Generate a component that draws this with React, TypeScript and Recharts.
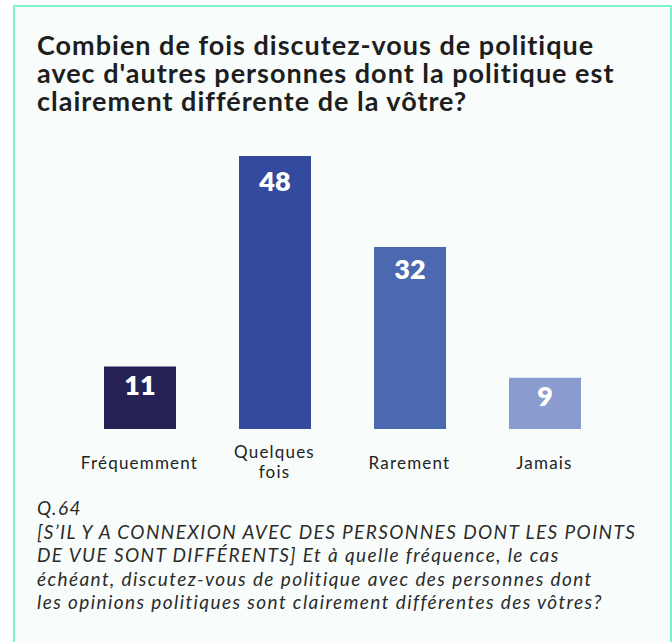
import React from 'react';
import { BarChart, Bar, XAxis, YAxis, Cell, LabelList } from 'recharts';

const categories = ['Fréquemment', 'Quelques fois', 'Rarement', 'Jamais'];
const values = [11, 48, 32, 9];
const barColors = ['#252154', '#334a9e', '#4a69b0', '#8a9bcf'];

const titleLines = [
  'Combien de fois discutez-vous de politique',
  "avec d'autres personnes dont la politique est",
  'clairement différente de la vôtre?',
];

const noteLines = [
  'Q.64',
  '[S’IL Y A CONNEXION AVEC DES PERSONNES DONT LES POINTS',
  'DE VUE SONT DIFFÉRENTS] Et à quelle fréquence, le cas',
  'échéant, discutez-vous de politique avec des personnes dont',
  'les opinions politiques sont clairement différentes des vôtres?',
];

const data = categories.map((name, i) => ({ name, value: values[i] }));

const FONT = 'Lato, "Open Sans", sans-serif';

// x-axis label, wraps on spaces
const CategoryTick = (props: any) => {
  const { x, y, payload } = props;
  const words = String(payload.value).split(' ');
  const first = words.length > 1 ? 29 : 40;
  return (
    <text
      x={x}
      y={y}
      textAnchor="middle"
      fontSize={17}
      fill="#222"
      fontFamily={FONT}
      style={{ letterSpacing: 1.2, fontVariantLigatures: 'none' }}
    >
      {words.map((w, i) => (
        <tspan key={i} x={x} y={y + first + i * 20}>
          {w}
        </tspan>
      ))}
    </text>
  );
};

const BarValue = (props: any) => {
  const { x, y, width, height, value } = props;
  const capTop = y + 8 + height * 0.03;
  return (
    <text
      x={x + width / 2}
      y={capTop + 19}
      textAnchor="middle"
      fill="#fff"
      fontSize={27}
      fontWeight={800}
      fontFamily={FONT}
    >
      {value}
    </text>
  );
};

export default function App() {
  return (
    <div
      style={{
        position: 'absolute',
        left: 0,
        top: 0,
        width: 672,
        height: 642,
        overflow: 'hidden',
        background: '#fff',
        fontFamily: FONT,
        fontVariantLigatures: 'none',
      }}
    >
      <div
        style={{
          position: 'absolute',
          left: 13,
          top: 5,
          width: 659,
          height: 700,
          boxSizing: 'border-box',
          border: '2px solid #7df2cf',
          background: '#f8fdfc',
        }}
      />
      <div
        style={{
          position: 'absolute',
          left: 37,
          top: 31,
          fontSize: 27,
          lineHeight: '28px',
          fontWeight: 700,
          letterSpacing: 1,
          color: '#1e1e1e',
          whiteSpace: 'nowrap',
        }}
      >
        {titleLines.map((l, i) => (
          <div key={i}>{l}</div>
        ))}
      </div>
      <div style={{ position: 'absolute', left: 0, top: 0 }}>
        <BarChart
          width={672}
          height={489}
          data={data}
          margin={{ top: 156, right: 60, left: 72, bottom: 0 }}
        >
          <XAxis
            dataKey="name"
            axisLine={false}
            tickLine={false}
            tickSize={0}
            tickMargin={0}
            height={60}
            interval={0}
            tick={<CategoryTick />}
          />
          <YAxis hide domain={[0, 48]} />
          <Bar dataKey="value" barSize={72} isAnimationActive={false}>
            {data.map((d, i) => (
              <Cell key={d.name} fill={barColors[i]} />
            ))}
            <LabelList dataKey="value" content={<BarValue />} />
          </Bar>
        </BarChart>
      </div>
      <div
        style={{
          position: 'absolute',
          left: 37,
          top: 496,
          fontSize: 19,
          lineHeight: '23.5px',
          fontStyle: 'italic',
          fontWeight: 400,
          letterSpacing: 1.4,
          color: '#2b2b2b',
          whiteSpace: 'nowrap',
        }}
      >
        {noteLines.map((l, i) => (
          <div key={i}>{l}</div>
        ))}
      </div>
    </div>
  );
}
